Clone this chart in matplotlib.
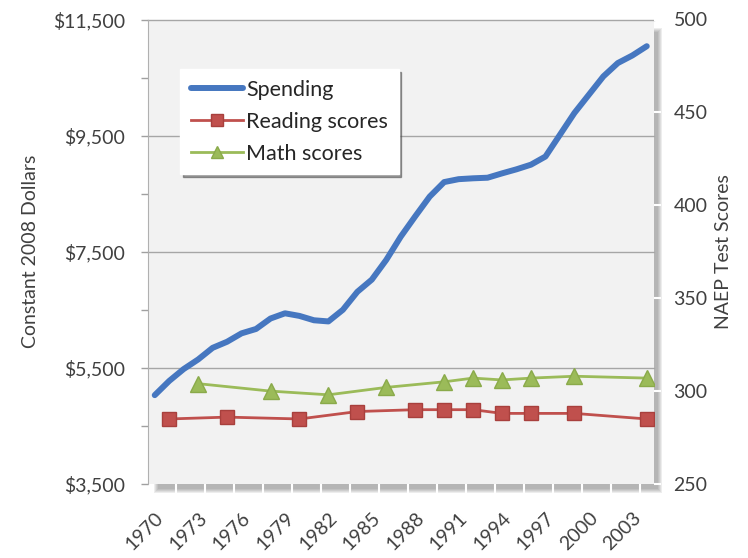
import matplotlib
matplotlib.use("Agg")
import matplotlib.pyplot as plt
from matplotlib.patches import Rectangle
from matplotlib.ticker import FuncFormatter, FixedLocator
from matplotlib.transforms import ScaledTranslation

plt.rcParams['font.family'] = ['Lato', 'DejaVu Sans']

# --- Data ---
years = list(range(1970, 2005))
spending = [5030, 5275, 5480, 5645, 5845, 5950, 6095, 6170, 6350, 6440,
            6395, 6320, 6300, 6500, 6810, 7020, 7360, 7760, 8110, 8450,
            8700, 8750, 8765, 8775, 8850, 8920, 9000, 9140, 9515, 9890,
            10205, 10520, 10750, 10880, 11040]

reading_years = [1971, 1975, 1980, 1984, 1988, 1990, 1992, 1994, 1996, 1999, 2004]
reading = [285, 286, 285, 289, 290, 290, 290, 288, 288, 288, 285]

math_years = [1973, 1978, 1982, 1986, 1990, 1992, 1994, 1996, 1999, 2004]
math = [304, 300, 298, 302, 305, 307, 306, 307, 308, 307]

label_years = list(range(1970, 2004, 3))
dollar_ticks = [3500, 5500, 7500, 9500, 11500]
score_ticks = [250, 300, 350, 400, 450, 500]

W, H = 748, 558
fig = plt.figure(figsize=(W / 100, H / 100), dpi=100)

# plot area in pixel terms
left, right, top, bottom = 147.5, 654, 19.5, 484
ax = fig.add_axes([left / W, (H - bottom) / H, (right - left) / W, (bottom - top) / H])


def px_rect(x0, y0, x1, y1, **kw):
    # rectangle given in image pixel coords (y down)
    return Rectangle((x0 / W, (H - y1) / H), (x1 - x0) / W, (y1 - y0) / H,
                     transform=fig.transFigure, **kw)


# soft drop shadow behind the plot area
for e in range(5):
    fig.add_artist(px_rect(154 + e, 28 + e, 662 - e, 493 - e,
                           facecolor='#404040', edgecolor='none',
                           alpha=0.09, zorder=-1))

blue = '#4677c0'
red = '#c0504d'
green = '#9bbb59'
txt = '#404040'

ax.plot(years, spending, color=blue, linewidth=4.3, solid_capstyle='round',
        solid_joinstyle='round', zorder=5, label='Spending')
ax.set_xlim(1969.5, 2004.5)
ax.set_ylim(3500, 11500)

ax2 = ax.twinx()
ax2.plot(reading_years, reading, color=red, linewidth=2, marker='s',
         markersize=10, markerfacecolor=red, markeredgecolor='#a8403d',
         zorder=4, label='Reading scores')
ax2.plot(math_years, math, color=green, linewidth=2, marker='^',
         markersize=11, markerfacecolor=green, markeredgecolor='#8aaa4a',
         zorder=4, label='Math scores')
ax2.set_ylim(250, 500)

# spending line sits above the score lines; the twin carries the background
ax.set_zorder(ax2.get_zorder() + 1)
ax.patch.set_visible(False)
ax2.patch.set_visible(True)
ax2.patch.set_facecolor('#f2f2f2')

# horizontal gridlines at the labelled dollar values
for v in dollar_ticks[1:]:
    ax2.axhline(250 + (v - 3500) / 8000 * 250, color='#a6a6a6', linewidth=1,
                zorder=1, clip_on=False)

ax.yaxis.set_major_locator(FixedLocator(dollar_ticks))
ax.yaxis.set_minor_locator(FixedLocator(list(range(4500, 11500, 2000))))
ax.yaxis.set_major_formatter(FuncFormatter(lambda v, p: f'${v:,.0f}'))
ax.tick_params(axis='y', which='both', direction='out', length=5, width=1,
               color='#a0a0a0', labelsize=14, labelcolor=txt, pad=11)

ax.set_xticks(label_years)
ax.set_xticklabels([str(y) for y in label_years], rotation=45, ha='right',
                   va='top', rotation_mode='anchor')
shift = ScaledTranslation(-7 / 100, 0, fig.dpi_scale_trans)
for lab in ax.get_xticklabels():
    lab.set_transform(lab.get_transform() + shift)
ax.xaxis.set_minor_locator(FixedLocator([1969.5 + 2 * k for k in range(1, 18)]))
ax.tick_params(axis='x', which='major', length=0, labelsize=14,
               labelcolor=txt, pad=18)
ax.tick_params(axis='x', which='minor', direction='out', length=7, width=1.5,
               color='white')

ax2.yaxis.set_major_locator(FixedLocator(score_ticks))
ax2.tick_params(axis='y', direction='out', length=5, width=1.5, color='white',
                labelsize=14, labelcolor=txt, pad=9)

for a in (ax, ax2):
    for side in ('top', 'right', 'bottom'):
        a.spines[side].set_visible(False)
ax.spines['left'].set_color('#b0b0b0')
ax2.spines['left'].set_visible(False)

ax.set_ylabel('Constant 2008 Dollars', fontsize=14, color=txt, labelpad=10)
ax2.set_ylabel('NAEP Test Scores', fontsize=14, color=txt, labelpad=5,
               rotation=90)

h1, l1 = ax.get_legend_handles_labels()
h2, l2 = ax2.get_legend_handles_labels()
leg = ax.legend(h1 + h2, l1 + l2, loc='upper left', bbox_to_anchor=(0.065, 0.893),
                borderaxespad=0, fontsize=15.5, frameon=True, fancybox=False,
                shadow={'color': '0.3', 'alpha': 0.55}, framealpha=1,
                edgecolor='white', handlelength=2.4, handletextpad=0.15,
                labelspacing=0.55, borderpad=0.5, markerscale=0.8)
leg.set_zorder(20)
for t in leg.get_texts():
    t.set_color('#262626')

fig.savefig('out.png', dpi=100)
